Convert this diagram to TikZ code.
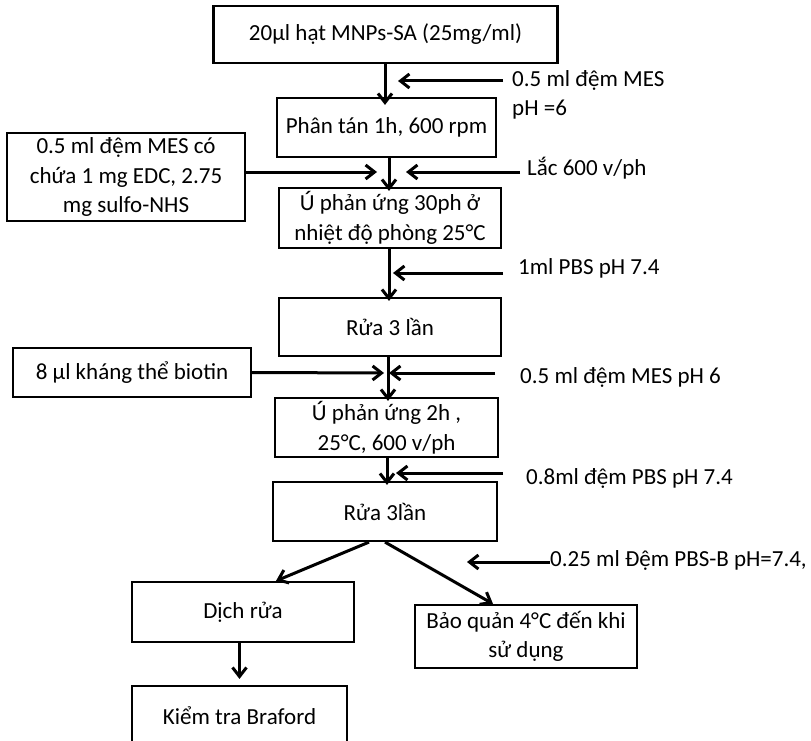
\documentclass[tikz,border=0pt]{standalone}
\usepackage{fontspec}
\setmainfont{Carlito}
\usetikzlibrary{arrows.meta}
\begin{document}
\begin{tikzpicture}[x=1pt,y=-1pt,
  box/.style={draw, line width=2.2pt, align=center, inner sep=0pt, font=\fontsize{23}{29.5}\selectfont},
  lab/.style={anchor=west, inner sep=0pt, align=left, font=\fontsize{23}{29.5}\selectfont},
  arr/.style={line width=3pt, -{Straight Barb[length=9pt,width=14pt]}}]
\useasboundingbox (0,0) rectangle (811,741);
% main column
\node[box, minimum width=344pt, minimum height=57pt] (b1) at (385.5,34.5) {20µl hạt MNPs-SA (25mg/ml)};
\node[box, minimum width=219pt, minimum height=59pt] (b2) at (386.5,127.5) {Phân tán 1h, 600 rpm};
\node[box, minimum width=222pt, minimum height=60pt] (b3) at (390,218) {Ú phản ứng 30ph ở\\nhiệt độ phòng 25°C};
\node[box, minimum width=222pt, minimum height=58pt] (b4) at (390,327) {Rửa 3 lần};
\node[box, minimum width=223pt, minimum height=59pt] (b5) at (386.5,427.5) {Ú phản ứng 2h ,\\25°C, 600 v/ph};
\node[box, minimum width=224pt, minimum height=59pt] (b6) at (385,511.5) {Rửa 3lần};
\node[box, minimum width=222pt, minimum height=60pt] (d1) at (243,612) {Dịch rửa};
\node[box, minimum width=222pt, minimum height=63pt] (d2) at (526,636.5) {Bảo quản 4°C đến khi\\sử dụng};
\node[box, minimum width=215pt, minimum height=60pt] (k) at (239.5,716) {Kiểm tra Braford};
% left boxes
\node[box, minimum width=238pt, minimum height=88pt] (L1) at (126,177) {0.5 ml đệm MES có\\chứa 1 mg EDC, 2.75\\mg sulfo-NHS};
\node[box, minimum width=238pt, minimum height=49pt] (L2) at (132,372.5) {8 µl kháng thể biotin};
% right labels
\node[lab] (r1) at (512,95) {0.5 ml đệm MES\\pH =6};
\node[lab] (r2) at (527,168) {Lắc 600 v/ph};
\node[lab] (r3) at (518,268) {1ml PBS pH 7.4};
\node[lab] (r4) at (520,377) {0.5 ml đệm MES pH 6};
\node[lab] (r5) at (526,478) {0.8ml đệm PBS pH 7.4};
\node[lab] (r6) at (550,560) {0.25 ml Đệm PBS-B pH=7.4,};
% coordinates for side arrows
\coordinate (s1a) at (503,81);  \coordinate (s1b) at (398,81);
\coordinate (s2a) at (520,172); \coordinate (s2b) at (406,172);
\coordinate (s3a) at (503,273); \coordinate (s3b) at (393,273);
\coordinate (s4a) at (495,373); \coordinate (s4b) at (389,373);
\coordinate (s5a) at (503,473); \coordinate (s5b) at (396,473);
\coordinate (s6b) at (467,562);
\coordinate (l1b) at (377,172);
\coordinate (l2b) at (384,373);
% main arrows
\draw[arr, shorten >=-8pt] (b1.south -| 385,0) -- (b2.north -| 385,0);
\draw[arr, shorten >=-4pt] (b2.south -| 389,0) -- (b3.north -| 389,0);
\draw[arr, shorten >=-4pt] (b3.south -| 389,0) -- (b4.north -| 389,0);
\draw[arr, shorten >=-4pt] (b4.south -| 388,0) -- (b5.north -| 388,0);
\draw[arr, shorten >=-4pt] (b5.south -| 387,0) -- (b6.north -| 387,0);
\draw[arr] ([xshift=-16pt]b6.south) -- ([xshift=33pt]d1.north);
\draw[arr] (b6.south) -- ([xshift=-33pt]d2.north);
\draw[arr, shorten >=6pt] (k.north |- d1.south) -- (k.north);
% side arrows
\draw[arr] (s1a) -- (s1b);
\draw[arr] (s2a) -- (s2b);
\draw[arr] (s3a) -- (s3b);
\draw[arr] (s4a) -- (s4b);
\draw[arr] (s5a) -- (s5b);
\draw[arr] ([yshift=-2pt]r6.west) -- (s6b);
\draw[arr] ([yshift=5pt]L1.east) -- (l1b);
\draw[arr] (L2.east) -- (l2b);
\end{tikzpicture}
\end{document}
